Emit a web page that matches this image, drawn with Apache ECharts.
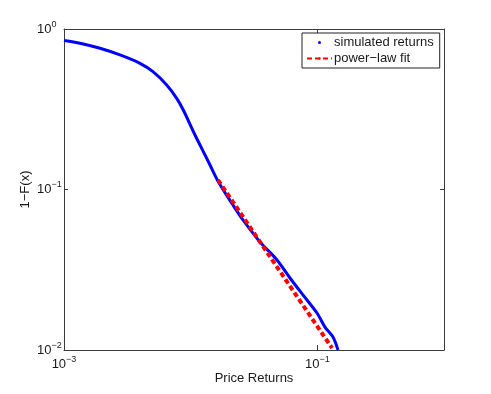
<!DOCTYPE html>
<html>
<head>
<meta charset="utf-8">
<script src="https://cdn.jsdelivr.net/npm/echarts@6/dist/echarts.min.js"></script>
<style>
  html, body { margin: 0; padding: 0; background: #fff; }
  #chart { width: 491px; height: 394px; }
</style>
</head>
<body>
<div id="chart"></div>
<script>
const returnsX = [0.001, 0.001337, 0.001924, 0.002768, 0.003981, 0.005042, 0.006469, 0.007757,
  0.008746, 0.01082, 0.01222, 0.01421, 0.01652, 0.02159, 0.02588, 0.03526, 0.04804, 0.06083,
  0.0770, 0.09938, 0.1149, 0.1329, 0.1456]
const survivalY = [0.848, 0.815, 0.758, 0.689, 0.611, 0.542, 0.4478, 0.3700,
  0.3130, 0.2186, 0.1805, 0.1421, 0.1118, 0.0800, 0.0646, 0.0471, 0.0364, 0.0281,
  0.02203, 0.0170, 0.0139, 0.01205, 0.0100]

// power-law fit, straight on log-log
const fitX = [0.01644, 0.1306]
const fitY = [0.1146, 0.01029]

const xTicks = [0.001, 0.1]
const yTicks = [0.01, 0.1, 1]

const FONT = '"Liberation Sans", Arial, Helvetica, sans-serif'
const INK = '#1a1a1a'
const FRAME = '#3c3c3c'

function powerLabel(value) {
  const exp = Math.round(Math.log10(value))
  const sup = exp < 0 ? '−' + Math.abs(exp) : String(exp)
  return '{b|10}{s|' + sup + '}'
}

const labelRich = {
  b: { fontSize: 13, lineHeight: 18, color: INK, fontFamily: FONT },
  s: { fontSize: 9, lineHeight: 10, verticalAlign: 'top', color: INK, fontFamily: FONT },
}

const chart = echarts.init(document.getElementById('chart'), null, { renderer: 'canvas' })

chart.setOption({
  animation: false,
  backgroundColor: '#fff',
  grid: { left: 64, right: 47, top: 29, bottom: 44, containLabel: false },
  legend: {
    orient: 'vertical',
    left: 302,
    top: 33,
    width: 138,
    padding: [3, 6, 3, 4],
    itemGap: 3,
    itemWidth: 25,
    itemHeight: 3,
    backgroundColor: '#fff',
    borderColor: '#222',
    borderWidth: 1,
    borderRadius: 0,
    textStyle: { fontSize: 13, color: INK, fontFamily: FONT, padding: [0, 0, 0, -3] },
    data: [
      { name: 'simulated returns', icon: 'circle' },
      { name: 'power−law fit' },
    ],
  },
  xAxis: [
    {
      type: 'log',
      logBase: 10,
      min: 0.001,
      max: 1,
      position: 'bottom',
      name: 'Price Returns',
      nameLocation: 'middle',
      nameGap: 22,
      nameMoveOverlap: false,
      nameTextStyle: { fontSize: 13, color: INK, fontFamily: FONT },
      axisLine: { show: true, lineStyle: { color: FRAME, width: 1 } },
      axisTick: { show: true, inside: true, length: 5, customValues: xTicks, lineStyle: { color: FRAME } },
      axisLabel: { customValues: xTicks, margin: 5, formatter: powerLabel, rich: labelRich },
      splitLine: { show: false },
      minorTick: { show: false },
    },
    {
      type: 'log',
      logBase: 10,
      min: 0.001,
      max: 1,
      position: 'top',
      axisLine: { show: true, lineStyle: { color: FRAME, width: 1 } },
      axisTick: { show: true, inside: true, length: 5, customValues: xTicks, lineStyle: { color: FRAME } },
      axisLabel: { show: false },
      splitLine: { show: false },
    },
  ],
  yAxis: [
    {
      type: 'log',
      logBase: 10,
      min: 0.01,
      max: 1,
      position: 'left',
      name: '1−F(x)',
      nameLocation: 'middle',
      nameGap: 32,
      nameMoveOverlap: false,
      nameTextStyle: { fontSize: 13, color: INK, fontFamily: FONT },
      axisLine: { show: true, lineStyle: { color: FRAME, width: 1 } },
      axisTick: { show: true, inside: true, length: 4, customValues: yTicks, lineStyle: { color: FRAME } },
      axisLabel: { customValues: yTicks, margin: 27, align: 'left', formatter: powerLabel, rich: labelRich },
      splitLine: { show: false },
      minorTick: { show: false },
    },
    {
      type: 'log',
      logBase: 10,
      min: 0.01,
      max: 1,
      position: 'right',
      axisLine: { show: true, lineStyle: { color: FRAME, width: 1 } },
      axisTick: { show: true, inside: true, length: 4, customValues: yTicks, lineStyle: { color: FRAME } },
      axisLabel: { show: false },
      splitLine: { show: false },
    },
  ],
  series: [
    {
      name: 'simulated returns',
      type: 'line',
      xAxisIndex: 0,
      yAxisIndex: 0,
      data: returnsX.map((x, i) => [x, survivalY[i]]),
      showSymbol: false,
      symbol: 'circle',
      symbolSize: 3,
      smooth: 0.3,
      clip: true,
      itemStyle: { color: '#0000ff' },
      lineStyle: { color: '#0000ff', width: 3 },
      z: 2,
    },
    {
      name: 'power−law fit',
      type: 'line',
      xAxisIndex: 0,
      yAxisIndex: 0,
      data: fitX.map((x, i) => [x, fitY[i]]),
      showSymbol: false,
      symbol: 'none',
      clip: true,
      itemStyle: { color: '#ff0000' },
      lineStyle: { color: '#ff0000', width: 4, type: [5, 3] },
      z: 3,
    },
  ],
})
</script>
</body>
</html>
